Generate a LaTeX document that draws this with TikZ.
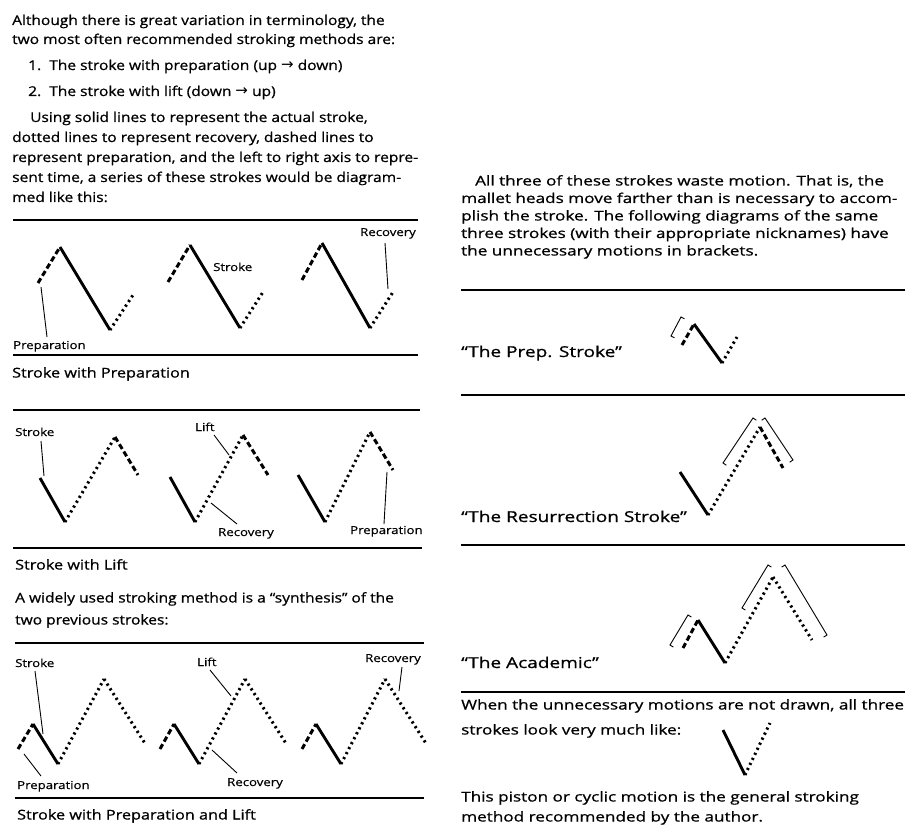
\documentclass[tikz,border=0pt]{standalone}
\usepackage{fontspec}
\setmainfont{Open Sans}
\newfontfamily\lfont{Open Sans}[FakeStretch=1.15, FakeBold=0.8]
\newfontfamily\rfont{Open Sans}[FakeStretch=1.27, FakeBold=0.8]
\newfontfamily\capfont{Open Sans}[FakeStretch=1.2, FakeBold=0.8]
\newfontfamily\labfont{Open Sans}[FakeStretch=1.2, FakeBold=0.5]
\newfontfamily\arrowfont{DejaVu Sans}
\newcommand\rarr{{\arrowfont\fontsize{15}{15}\selectfont →}}
\usetikzlibrary{calc}
\begin{document}
\begin{tikzpicture}[x=1pt,y=-1pt,
 txt/.style={inner sep=0pt, font=\lfont\fontsize{13.5}{16}\selectfont, anchor=base west},
 rtxt/.style={inner sep=0pt, font=\rfont\fontsize{13.5}{16}\selectfont, anchor=base west},
 ttl/.style={inner sep=0pt, font=\rfont\fontsize{15}{17}\selectfont, anchor=base west},
 captxt/.style={inner sep=0pt, font=\capfont\fontsize{13.5}{16}\selectfont, anchor=base west},
 lbl/.style={inner sep=0pt, font=\labfont\fontsize{11}{13}\selectfont, anchor=base west},
 rule/.style={line width=1.2pt},
 strk/.style={line width=2.9pt},
 recov/.style={line width=3pt, dash pattern=on 2.2pt off 3.4pt},
 prepl/.style={line width=3pt, dash pattern=on 5.5pt off 3pt},
 lead/.style={line width=0.9pt},
 brk/.style={line width=0.9pt}]
\useasboundingbox[fill=white] (0,0) rectangle (908,829);

% ---------- left column text ----------
\node[txt] (t1) at (12,25) {Although there is great variation in terminology, the};
\node[txt] (t2) at (12,44) {two most often recommended stroking methods are:};
\node[txt] (t3) at (28,70) {1.\ \ The stroke with preparation (up \rarr\ down)};
\node[txt] (t4) at (28,96) {2.\ \ The stroke with lift (down \rarr\ up)};
\node[txt] (t5) at (30,122) {Using solid lines to represent the actual stroke,};
\node[txt] (t6) at (12,142) {dotted lines to represent recovery, dashed lines to};
\node[txt] (t7) at (12,162) {represent preparation, and the left to right axis to repre-};
\node[txt] (t8) at (12,182) {sent time, a series of these strokes would be diagram-};
\node[txt] (t9) at (12,202) {med like this:};

% rules left
\draw[rule] (13,220) -- (418,220);
\draw[rule] (13,355) -- (418,355);
\draw[rule] (13,410) -- (420,410);
\draw[rule] (13,548) -- (422,548);
\draw[rule] (15,643) -- (424,643);
\draw[rule] (15,798) -- (424,798);

% ---------- diagram 1: stroke with preparation ----------
\draw[prepl] (38,283) -- (60,247);
\draw[strk] (60,247) -- (110,330);
\draw[recov] (110,330) -- (133,295);
\draw[prepl] (168,282) -- (190,245);
\draw[strk] (190,245) -- (240,328);
\draw[recov] (240,328) -- (263,292);
\draw[prepl] (302,280) -- (322,243);
\draw[strk] (322,243) -- (370,328);
\draw[recov] (370,328) -- (393,292);

\node[lbl] (la) at (360,236) {Recovery};
\node[lbl] (lb) at (213,271) {Stroke};
\node[lbl] (lc) at (13,349) {Preparation};
\coordinate (la1) at (385,243); \coordinate (la2) at (388,289);
\draw[lead] (la1) -- (la2);
\coordinate (lc1) at (47,337); \coordinate (lc2) at (41,287);
\draw[lead] (lc1) -- (lc2);

\node[captxt] (c1) at (12,377.5) {Stroke with Preparation};

% ---------- diagram 2: stroke with lift ----------
\draw[strk] (40,478) -- (65,522);
\draw[recov] (65,522) -- (115,437);
\draw[prepl] (115,437) -- (138,475);
\draw[strk] (170,477) -- (195,522);
\draw[recov] (195,522) -- (243,435);
\draw[prepl] (243,435) -- (268,475);
\draw[strk] (298,475) -- (325,522);
\draw[recov] (325,522) -- (370,432);
\draw[prepl] (370,432) -- (393,470);

\node[lbl] (ld) at (15,436) {Stroke};
\node[lbl] (le) at (195,431) {Lift};
\node[lbl] (lf) at (218,536) {Recovery};
\node[lbl] (lg) at (350,534) {Preparation};
\coordinate (ld1) at (41,441); \coordinate (ld2) at (44,476);
\draw[lead] (ld1) -- (ld2);
\coordinate (le1) at (214,435); \coordinate (le2) at (229,455);
\draw[lead] (le1) -- (le2);
\coordinate (lf1) at (211,503); \coordinate (lf2) at (237,524);
\draw[lead] (lf1) -- (lf2);
\coordinate (lg1) at (387,472); \coordinate (lg2) at (384,524);
\draw[lead] (lg1) -- (lg2);

\node[captxt] (c2) at (15,569.5) {Stroke with Lift};
\node[txt] (t10) at (15,602.5) {A widely used stroking method is a “synthesis” of the};
\node[txt] (t11) at (15,624.5) {two previous strokes:};

% ---------- diagram 3: synthesis ----------
\draw[prepl] (18,749) -- (33,724);
\draw[strk] (33,724) -- (58,764);
\draw[recov] (58,764) -- (104,679);
\draw[recov] (104,679) -- (146,745);
\draw[prepl] (160,749) -- (174,724);
\draw[strk] (174,724) -- (199,764);
\draw[recov] (199,764) -- (245,679);
\draw[recov] (245,679) -- (287,745);
\draw[prepl] (302,749) -- (316,724);
\draw[strk] (316,724) -- (341,764);
\draw[recov] (341,764) -- (385,679);
\draw[recov] (385,679) -- (427,745);

\node[lbl] (lh) at (15,667) {Stroke};
\node[lbl] (li) at (197,666) {Lift};
\node[lbl] (lj) at (365,662) {Recovery};
\node[lbl] (lk) at (17,789) {Preparation};
\node[lbl] (ll) at (227,786) {Recovery};
\coordinate (lh1) at (35,671); \coordinate (lh2) at (43,734);
\draw[lead] (lh1) -- (lh2);
\coordinate (li1) at (210,670); \coordinate (li2) at (231,696);
\draw[lead] (li1) -- (li2);
\coordinate (lj1) at (402,667); \coordinate (lj2) at (399,691);
\draw[lead] (lj1) -- (lj2);
\coordinate (lk1) at (24,754); \coordinate (lk2) at (41,776);
\draw[lead] (lk1) -- (lk2);
\coordinate (ll1) at (212,750); \coordinate (ll2) at (237,773);
\draw[lead] (ll1) -- (ll2);

\node[captxt] (c3) at (17,819.5) {Stroke with Preparation and Lift};

% ---------- right column ----------
\node[rtxt] (r1) at (475,185.5) {All three of these strokes waste motion. That is, the};
\node[rtxt] (r2) at (461,203) {mallet heads move farther than is necessary to accom-};
\node[rtxt] (r3) at (461,220.5) {plish the stroke. The following diagrams of the same};
\node[rtxt] (r4) at (461,238) {three strokes (with their appropriate nicknames) have};
\node[rtxt] (r5) at (461,255.5) {the unnecessary motions in brackets.};

\draw[rule] (461,290) -- (905,290);
\draw[rule] (461,395) -- (905,395);
\draw[rule] (461,545) -- (905,545);
\draw[rule] (461,692) -- (905,692);

% prep stroke
\draw[prepl] (682,345) -- (694,324);
\draw[strk] (694,324) -- (722,363);
\draw[recov] (722,363) -- (737,337);
\draw[brk] (681,317) ++(3.5,1.8) -- (681,317) -- (671,336) -- ++(3.5,1.8);
\node[ttl] (n1) at (461,357) {“The Prep. Stroke”};

% resurrection stroke
\draw[strk] (680,472) -- (708,515);
\draw[recov] (708,515) -- (760,427);
\draw[prepl] (760,427) -- (783,468);
\draw[brk] (753,418) ++(3.3,2.2) -- (753,418) -- (723,463) -- ++(3.3,2.2);
\draw[brk] (765,418) ++(-3.3,2.2) -- (765,418) -- (793,460) -- ++(-3.3,2.2);
\node[ttl] (n2) at (461,522) {“The Resurrection Stroke”};

% academic
\draw[prepl] (683,648) -- (698,620);
\draw[strk] (698,620) -- (725,663);
\draw[recov] (725,663) -- (773,577);
\draw[recov] (773,577) -- (812,640);
\draw[brk] (688,615) ++(3.4,2.1) -- (688,615) -- (670,645) -- ++(3.4,2.1);
\draw[brk] (768,565) ++(3.4,2.1) -- (768,565) -- (742,608) -- ++(3.4,2.1);
\draw[brk] (785,565) ++(-3.4,2.1) -- (785,565) -- (827,635) -- ++(-3.4,2.1);
\node[ttl] (n3) at (461,668) {“The Academic”};

\node[rtxt] (r6) at (461,709.5) {When the unnecessary motions are not drawn, all three};
\node[rtxt] (r7) at (461,734.5) {strokes look very much like:};
\draw[strk] (723,730) -- (745,775);
\draw[recov] (745,775) -- (770,723);
\node[rtxt] (r8) at (461,801.5) {This piston or cyclic motion is the general stroking};
\node[rtxt] (r9) at (461,821.5) {method recommended by the author.};
\end{tikzpicture}
\end{document}
